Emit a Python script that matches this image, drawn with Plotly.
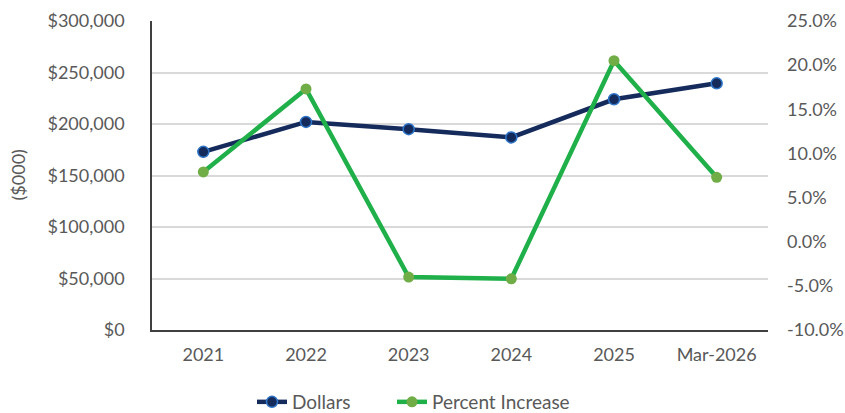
import plotly.graph_objects as go

categories = ["2021", "2022", "2023", "2024", "2025", "Mar-2026"]
dollars = [173000, 202000, 195000, 187000, 224000, 239500]
pct_increase = [7.9, 17.3, -4.0, -4.2, 20.5, 7.3]

left_ticks = [0, 50000, 100000, 150000, 200000, 250000, 300000]
left_labels = ["$0", "$50,000", "$100,000", "$150,000", "$200,000", "$250,000", "$300,000"]
right_ticks = [-10, -5, 0, 5, 10, 15, 20, 25]
right_labels = ["-10.0%", "-5.0%", "0.0%", "5.0%", "10.0%", "15.0%", "20.0%", "25.0%"]
y_title = "($000)"

FONT = "Lato, 'Open Sans', sans-serif"
GRAY = "#595959"
FS = 18

fig = go.Figure()
fig.add_trace(go.Scatter(
    x=categories, y=dollars, name="Dollars", mode="lines+markers",
    line=dict(color="#142B5C", width=4.5),
    marker=dict(size=11, color="#142B5C", line=dict(color="#2F75C8", width=1.5)),
    yaxis="y", legend="legend",
))
fig.add_trace(go.Scatter(
    x=categories, y=pct_increase, name="Percent Increase", mode="lines+markers",
    line=dict(color="#1FB04A", width=4.5),
    marker=dict(size=11, color="#70AD47", line=dict(width=0)),
    yaxis="y2", legend="legend2",
))

legend_common = dict(
    orientation="h", xref="container", xanchor="left",
    y=-0.233, yanchor="middle", font=dict(size=19, color=GRAY),
    bgcolor="rgba(0,0,0,0)",
)

fig.add_annotation(
    text=y_title, xref="paper", yref="paper", x=(17 - 152) / 616, y=0.5,
    xanchor="center", yanchor="middle", textangle=-90, showarrow=False,
    font=dict(size=FS, color=GRAY),
)

fig.update_layout(
    width=845, height=413,
    margin=dict(l=152, r=77, t=21, b=83, autoexpand=False),
    paper_bgcolor="white", plot_bgcolor="white",
    font=dict(family=FONT, size=FS, color=GRAY),
    xaxis=dict(
        type="category", range=[-0.5, len(categories) - 0.5],
        showgrid=False, showline=True, linecolor="#404040", linewidth=1.5,
        ticks="", tickfont=dict(size=FS, color=GRAY), ticklabelstandoff=8,
        mirror=False, automargin=False,
    ),
    yaxis=dict(
        range=[0, 300000], tickvals=left_ticks, ticktext=left_labels,
        showgrid=True, gridcolor="#D9D9D9", gridwidth=1.5,
        showline=True, linecolor="#404040", linewidth=1.5, zeroline=False,
        ticks="", tickfont=dict(size=FS, color=GRAY), ticklabelstandoff=22,
        automargin=False,
    ),
    yaxis2=dict(
        range=[-10, 25], tickvals=right_ticks, ticktext=right_labels,
        overlaying="y", side="right", showgrid=False, zeroline=False, showline=False,
        ticks="", tickfont=dict(size=FS, color=GRAY), ticklabelstandoff=18,
        automargin=False,
    ),
    legend=dict(x=252 / 845, **legend_common),
    legend2=dict(x=392 / 845, **legend_common),
    showlegend=True,
)

fig.write_html(
    "out.html",
    config={"displayModeBar": False},
    post_script="document.body.style.margin='0';document.body.style.overflow='hidden';",
)
